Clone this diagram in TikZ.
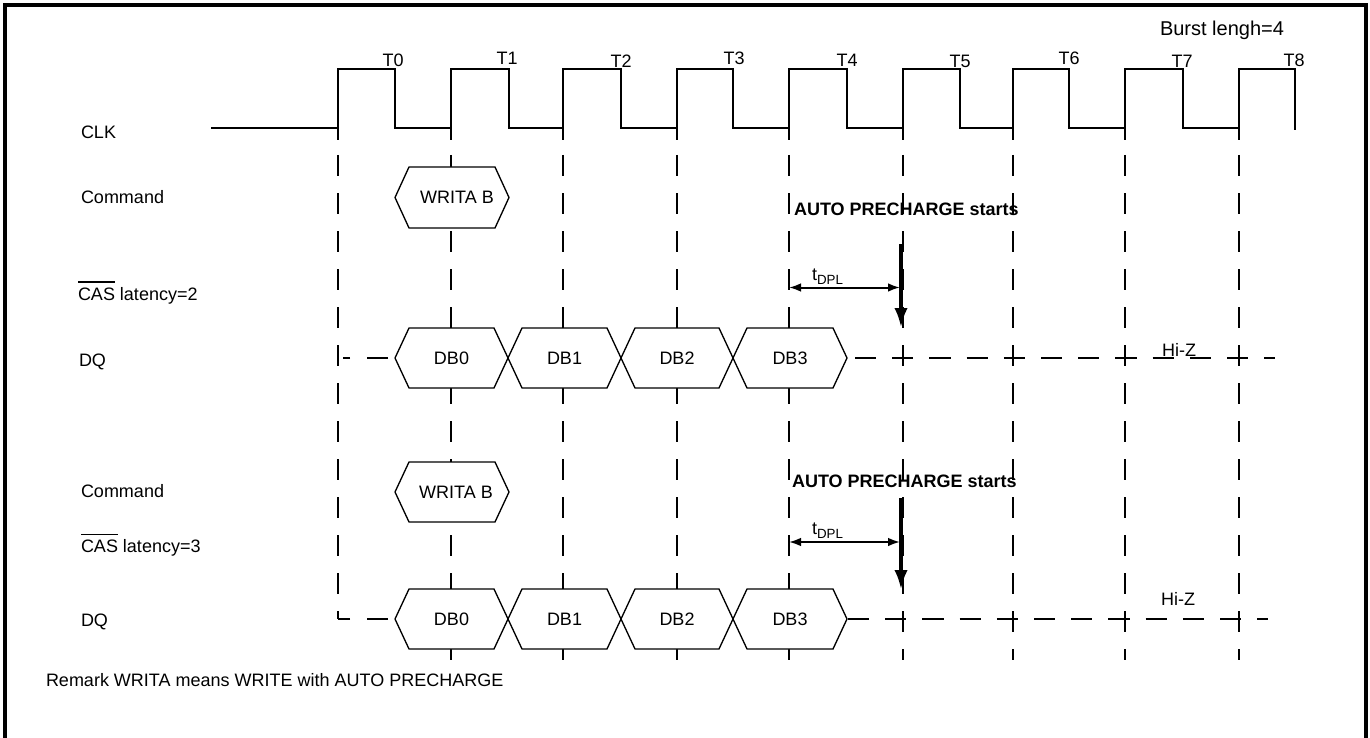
\documentclass[tikz,border=0pt]{standalone}
\usepackage{fontspec}
\setmainfont{Liberation Sans}
\usetikzlibrary{arrows.meta}
\newcommand{\myovl}[1]{\begingroup\setbox0\hbox{#1}\rlap{\rule[\dimexpr\ht0+3.6pt\relax]{\wd0}{1pt}}\box0\endgroup}
\newcommand{\dhex}[5]{% x1, x2, yc, name, text
  \draw[hexline] (#1,#3) -- ({#1+14},{#3-30}) -- ({#2-14},{#3-30}) -- (#2,#3) -- ({#2-14},{#3+30}) -- ({#1+14},{#3+30}) -- cycle;
  \node (#4) at ({(#1+#2)/2},#3) {#5};
}
\begin{document}
\begin{tikzpicture}[x=0.75pt,y=-0.75pt,
  every node/.style={inner sep=0pt,outer sep=0pt,font=\fontsize{13.5}{16}\selectfont},
  sig/.style={line width=1.8pt,line join=miter},
  gridline/.style={line width=1.7pt,dash pattern=on 15.75pt off 12.75pt},
  hdash/.style={line width=1.7pt,dash pattern=on 15.9pt off 12pt},
  hexline/.style={line width=1pt,fill=white,line join=miter},
  frame/.style={line width=3.2pt},
  dim/.style={line width=1.5pt,{Latex[length=9pt,width=6.5pt]}-{Latex[length=9pt,width=6.5pt]}},
  big/.style={line width=3.3pt,-{Latex[length=15pt,width=10pt]}},
  lbl/.style={anchor=base west},
  tlbl/.style={anchor=base},
]
\useasboundingbox (0,0) rectangle (1370,738);
% frame (no bottom edge)
\draw[frame] (5,740) -- (5,5) -- (1366,5) -- (1366,740);

% vertical dashed clock lines
\foreach \x in {451,563,677,789,903,1013,1125,1239}{
  \draw[gridline] (\x,155) -- (\x,660);
}
\draw[gridline] (338,155) -- (338,619);

% clock
\draw[sig] (211,128) -- (338,128) -- (338,69) -- (395,69) -- (395,128) -- (451,128) -- (451,69) -- (509,69) -- (509,128)
  -- (563,128) -- (563,69) -- (621,69) -- (621,128) -- (677,128) -- (677,69) -- (733,69) -- (733,128)
  -- (789,128) -- (789,69) -- (847,69) -- (847,128) -- (903,128) -- (903,69) -- (960,69) -- (960,128)
  -- (1013,128) -- (1013,69) -- (1069,69) -- (1069,128) -- (1125,128) -- (1125,69) -- (1183,69) -- (1183,128)
  -- (1239,128) -- (1239,69) -- (1295,69) -- (1295,130);
\foreach \x in {338,451,563,677,789,903,1013,1125,1239}{
  \draw[sig] (\x,127) -- (\x,140);
}
\node[tlbl] (T0) at (393,66.5) {T0};
\node[tlbl] (T1) at (507,65) {T1};
\node[tlbl] (T2) at (621,68) {T2};
\node[tlbl] (T3) at (734,65) {T3};
\node[tlbl] (T4) at (847,67) {T4};
\node[tlbl] (T5) at (960,68) {T5};
\node[tlbl] (T6) at (1069,65) {T6};
\node[tlbl] (T7) at (1182,68) {T7};
\node[tlbl] (T8) at (1294,67) {T8};
\node[tlbl,font=\fontsize{15}{18}\selectfont] (burst) at (1222,36) {Burst lengh=4};

% left labels
\node[lbl] (clk) at (81,139) {CLK};
\node[lbl] (cmd1) at (81,204) {Command};
\node[lbl] (cas2) at (78,300) {\myovl{CAS} latency=2};
\node[lbl] (dq1) at (79,366.5) {DQ};
\node[lbl] (cmd2) at (81,497.5) {Command};
\node[lbl] (cas3) at (81,552.5) {\myovl{CAS} latency=3};
\node[lbl] (dq2) at (81,626.5) {DQ};
\node[lbl] (remark) at (46,686.5) {Remark WRITA means WRITE with AUTO PRECHARGE};

% DQ dashed lines
\draw[gridline] (388,358) -- (343,358);
\draw[hdash] (855,358) -- (1275,358);
\draw[gridline] (388,619) -- (338,619);
\draw[hdash] (848,619) -- (1268,619);

% upper block
\draw[hexline] (395,197.5) -- (409,167) -- (495,167) -- (509,197.5) -- (495,228) -- (409,228) -- cycle;
\node (wr1) at (457,197.5) {WRITA B};
\dhex{395}{508}{358}{db0a}{DB0}
\dhex{508}{621}{358}{db1a}{DB1}
\dhex{621}{733}{358}{db2a}{DB2}
\dhex{733}{847}{358}{db3a}{DB3}
\node[lbl,font=\bfseries\fontsize{13.5}{16}\selectfont] (ap1) at (794,215.5) {AUTO PRECHARGE starts};
\coordinate (a1top) at (901,244);
\coordinate (a1tip) at (901,328);
\draw[big] (a1top) -- (a1tip);
\coordinate (d1l) at (789,287.5);
\coordinate (d1r) at (900,287.5);
\draw[dim] (d1l) -- (d1r);
\node[lbl] (tdpl1) at (812,280) {t\raisebox{-3pt}{\fontsize{10}{12}\selectfont DPL}};
\node[tlbl] (hiz1) at (1179,356) {Hi-Z};

% lower block
\draw[hexline] (395,492) -- (409,462) -- (495,462) -- (509,492) -- (495,522) -- (409,522) -- cycle;
\node (wr2) at (456,492) {WRITA B};
\dhex{395}{508}{619}{db0b}{DB0}
\dhex{508}{621}{619}{db1b}{DB1}
\dhex{621}{733}{619}{db2b}{DB2}
\dhex{733}{847}{619}{db3b}{DB3}
\node[lbl,font=\bfseries\fontsize{13.5}{16}\selectfont] (ap2) at (792,487.5) {AUTO PRECHARGE starts};
\coordinate (a2top) at (901,498);
\coordinate (a2tip) at (901,590);
\draw[big] (a2top) -- (a2tip);
\coordinate (d2l) at (789,542);
\coordinate (d2r) at (900,542);
\draw[dim] (d2l) -- (d2r);
\node[lbl] (tdpl2) at (812,534.5) {t\raisebox{-3pt}{\fontsize{10}{12}\selectfont DPL}};
\node[tlbl] (hiz2) at (1178,605) {Hi-Z};
\end{tikzpicture}
\end{document}
